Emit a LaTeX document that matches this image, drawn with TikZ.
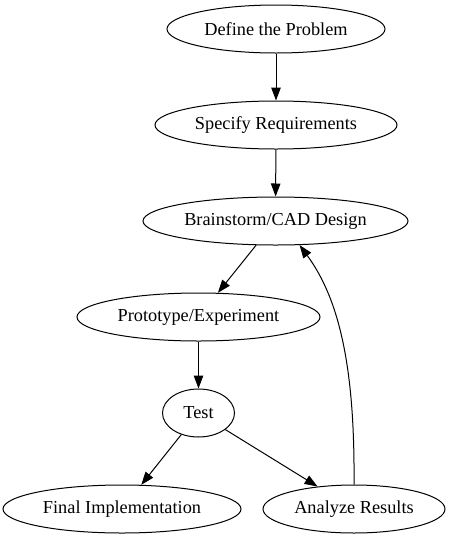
\documentclass[tikz,border=0pt]{standalone}
\usepackage{fontspec}
\setmainfont{Liberation Serif}
\usetikzlibrary{arrows.meta, shapes.geometric}
\begin{document}
\begin{tikzpicture}[
    x=1pt, y=-1pt,
    node_style/.style={ellipse, draw, line width=1pt, inner sep=0pt, minimum height=48pt,
        font=\fontsize{18.3}{22}\selectfont},
    edge_style/.style={line width=1pt, -{Triangle[length=13pt,width=9.5pt]}}
]
\useasboundingbox (0,0) rectangle (451,539);
% nodes
\node[node_style, minimum width=218pt] (define) at (276, 29) {Define the Problem};
\node[node_style, minimum width=242pt] (spec) at (276, 125) {Specify Requirements};
\node[node_style, minimum width=265pt] (brain) at (275.5, 221) {Brainstorm/CAD Design};
\node[node_style, minimum width=243pt] (proto) at (198.5, 317) {Prototype/Experiment};
\node[node_style, minimum width=72pt] (test) at (198.5, 413) {Test};
\node[node_style, minimum width=238pt] (final) at (122, 509) {Final Implementation};
\node[node_style, minimum width=182pt] (analyze) at (354, 509) {Analyze Results};
% edges
\draw[edge_style] (define) -- (spec);
\draw[edge_style] (spec) -- (brain);
\draw[edge_style] (brain) -- (proto);
\draw[edge_style] (proto) -- (test);
\draw[edge_style] (test) -- (final);
\draw[edge_style] (test) -- (analyze);
% feedback loop
\draw[edge_style] (analyze.north) .. controls (355, 370) and (340, 300) .. (brain.-45);
\end{tikzpicture}
\end{document}
